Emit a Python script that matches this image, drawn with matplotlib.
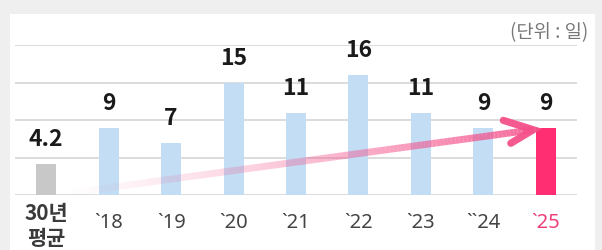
import numpy as np
import matplotlib
matplotlib.use('Agg')
import matplotlib.pyplot as plt
from matplotlib.collections import LineCollection
from matplotlib.patches import Rectangle
from matplotlib.transforms import blended_transform_factory

plt.rcParams['font.family'] = ['Noto Sans CJK KR', 'DejaVu Sans']

labels = ['30년\n평균', '`18', '`19', '`20', '`21', '`22', '`23', '``24', '`25']
values = [4.2, 9, 7, 15, 11, 16, 11, 9, 9]
value_text = ['4.2', '9', '7', '15', '11', '16', '11', '9', '9']
unit = '(단위 : 일)'

gray = '#c8c8c8'
blue = '#c3ddf4'
pink = '#ff2e72'
arrow_pink = '#f4508a'

fig = plt.figure(figsize=(6.02, 2.51), dpi=100)
fig.patch.set_facecolor('#efefef')
fig.add_artist(Rectangle((10 / 602, 0), 585 / 602, 236 / 251,
                         transform=fig.transFigure, facecolor='white',
                         edgecolor='none', zorder=0))

ax = fig.add_axes([15 / 602, 55 / 251, 562 / 602, 150 / 251])
ax.set_facecolor('none')
x = np.arange(len(values))
colors = [gray] + [blue] * (len(values) - 2) + [pink]
ax.bar(x, values, width=0.32, color=colors, zorder=2)

ax.set_xlim(-0.5, len(values) - 0.5)
ax.set_ylim(0, 20)
ax.set_yticks([0, 5, 10, 15, 20])
ax.set_xticks([])
ax.yaxis.grid(True, color='#dcdcdc', linewidth=1.4, zorder=0)
ax.set_axisbelow(True)
ax.tick_params(left=False, labelleft=False, bottom=False)
for s in ax.spines.values():
    s.set_visible(False)

# category labels under the bars
tr = blended_transform_factory(ax.transData, ax.transAxes)
for i, (xi, lab) in enumerate(zip(x, labels)):
    if i == 0:
        ax.text(xi, -0.2, lab, transform=tr, ha='center', va='center',
                fontsize=15, fontweight='bold', color='#3a3a3a', linespacing=1.2)
    else:
        c = '#ee3f7c' if i == len(values) - 1 else '#444444'
        ax.text(xi, -0.18, lab, transform=tr, ha='center', va='center',
                fontsize=14.5, color=c, family=['Noto Sans', 'DejaVu Sans'])

for xi, v, s in zip(x, values, value_text):
    ax.annotate(s, (xi, v), xytext=(0, 13.5), textcoords='offset points',
                ha='center', va='baseline', fontsize=16.5, fontweight='bold',
                color='#1a1a1a', clip_on=False)

# gradient trend arrow from the 30-year average to 2025
x0, y0 = x[0] + 0.4, 0.3
x1, y1 = x[-1] - 0.2, values[-1] - 0.3
n = 120
xs = np.linspace(x0, x1, n)
ys = np.linspace(y0, y1, n)
pts = np.array([xs, ys]).T.reshape(-1, 1, 2)
segs = np.concatenate([pts[:-1], pts[1:]], axis=1)
alphas = np.linspace(0.02, 0.88, n - 1) ** 1.3
rgba = np.array([matplotlib.colors.to_rgba(arrow_pink, a) for a in alphas])
ax.add_collection(LineCollection(segs, colors=rgba, linewidths=5, zorder=3,
                                 capstyle='butt'))
ax.plot([x1 - 0.48, x1, x1 - 0.36], [y1 + 1.25, y1, y1 - 1.8], color=arrow_pink,
        lw=5.2, alpha=0.95, solid_capstyle='round', solid_joinstyle='miter', zorder=3)

fig.text(588 / 602, 1 - 33 / 251, unit, ha='right', va='center', fontsize=13.5,
         color='#777777')

fig.savefig('out.png', dpi=100, facecolor=fig.get_facecolor())
